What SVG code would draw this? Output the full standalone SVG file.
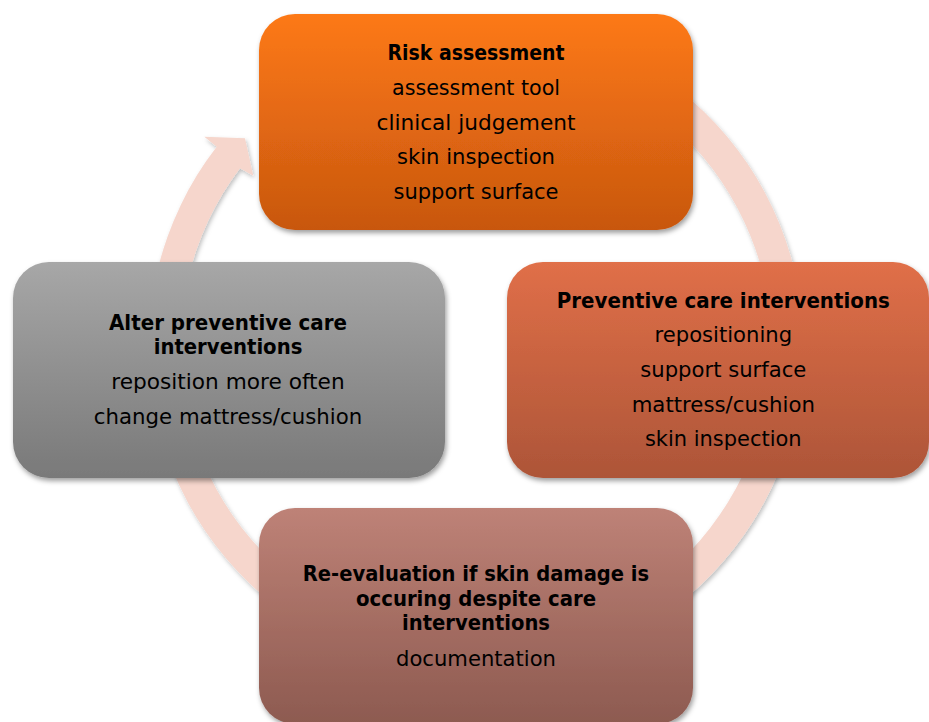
<svg xmlns="http://www.w3.org/2000/svg" width="929" height="722" viewBox="0 0 929 722">
  <defs>
    <linearGradient id="gOrange" x1="0" y1="0" x2="0" y2="1">
      <stop offset="0" stop-color="#FD7916"/>
      <stop offset="1" stop-color="#C8570F"/>
    </linearGradient>
    <linearGradient id="gRust" x1="0" y1="0" x2="0" y2="1">
      <stop offset="0" stop-color="#E06F48"/>
      <stop offset="1" stop-color="#AD5538"/>
    </linearGradient>
    <linearGradient id="gGrey" x1="0" y1="0" x2="0" y2="1">
      <stop offset="0" stop-color="#A7A7A7"/>
      <stop offset="1" stop-color="#797979"/>
    </linearGradient>
    <linearGradient id="gMauve" x1="0" y1="0" x2="0" y2="1">
      <stop offset="0" stop-color="#BE8277"/>
      <stop offset="1" stop-color="#8D5A50"/>
    </linearGradient>
    <filter id="shadow" x="-10%" y="-10%" width="120%" height="125%">
      <feDropShadow dx="1.5" dy="3" stdDeviation="2.5" flood-color="#000" flood-opacity="0.38"/>
    </filter>
    <filter id="ringShadow" x="-10%" y="-10%" width="120%" height="120%">
      <feDropShadow dx="1.5" dy="2.5" stdDeviation="2" flood-color="#000" flood-opacity="0.25"/>
    </filter>
  </defs>
  <style>
    .box { filter: url(#shadow); }
    text { font-family: "DejaVu Sans", "Liberation Sans", sans-serif; fill: #000; text-anchor: middle; }
    .h { font-size: 21.5px; font-weight: bold; }
    .t { font-size: 21.5px; }
  </style>

  <!-- circular cycle arrow behind the steps -->
  <g id="connectors">
    <path filter="url(#ringShadow)" fill="#F6D6CC"
          d="M 588.5 39.2 A 327.5 327.5 0 1 1 216.7 146.7 L 204.3 136.7 L 245 138.3 L 253.3 175.7 L 240 168.3 A 296 296 0 1 0 577.7 68.9 Z"/>
  </g>

  <g id="risk-assessment">
    <rect class="box" x="259" y="14" width="434" height="216" rx="36" fill="url(#gOrange)"/>
    <text class="h" x="476" y="60" textLength="177" lengthAdjust="spacingAndGlyphs">Risk assessment</text>
    <text class="t" x="476" y="95" textLength="168" lengthAdjust="spacingAndGlyphs">assessment tool</text>
    <text class="t" x="476" y="129.5" textLength="199" lengthAdjust="spacingAndGlyphs">clinical judgement</text>
    <text class="t" x="476" y="164" textLength="158" lengthAdjust="spacingAndGlyphs">skin inspection</text>
    <text class="t" x="476" y="198.5" textLength="165" lengthAdjust="spacingAndGlyphs">support surface</text>
  </g>

  <g id="preventive-care">
    <rect class="box" x="507" y="262" width="422" height="216" rx="36" fill="url(#gRust)"/>
    <text class="h" x="723.3" y="308.3" textLength="333" lengthAdjust="spacingAndGlyphs">Preventive care interventions</text>
    <text class="t" x="723.3" y="341.7" textLength="137.5" lengthAdjust="spacingAndGlyphs">repositioning</text>
    <text class="t" x="723.3" y="376.5" textLength="166" lengthAdjust="spacingAndGlyphs">support surface</text>
    <text class="t" x="723.3" y="411.5" textLength="183.3" lengthAdjust="spacingAndGlyphs">mattress/cushion</text>
    <text class="t" x="723.3" y="446" textLength="156.7" lengthAdjust="spacingAndGlyphs">skin inspection</text>
  </g>

  <g id="re-evaluation">
    <rect class="box" x="259" y="508" width="434" height="216" rx="36" fill="url(#gMauve)"/>
    <text class="h" x="476" y="581" textLength="346.3" lengthAdjust="spacingAndGlyphs">Re-evaluation if skin damage is</text>
    <text class="h" x="476" y="606" textLength="240" lengthAdjust="spacingAndGlyphs">occuring despite care</text>
    <text class="h" x="476" y="630" textLength="148" lengthAdjust="spacingAndGlyphs">interventions</text>
    <text class="t" x="476" y="666" textLength="160" lengthAdjust="spacingAndGlyphs">documentation</text>
  </g>

  <g id="alter-care">
    <rect class="box" x="13" y="262" width="432" height="216" rx="36" fill="url(#gGrey)"/>
    <text class="h" x="228" y="330" textLength="238" lengthAdjust="spacingAndGlyphs">Alter preventive care</text>
    <text class="h" x="228" y="354.3" textLength="148.7" lengthAdjust="spacingAndGlyphs">interventions</text>
    <text class="t" x="228" y="389.3" textLength="233.3" lengthAdjust="spacingAndGlyphs">reposition more often</text>
    <text class="t" x="228" y="424" textLength="268.3" lengthAdjust="spacingAndGlyphs">change mattress/cushion</text>
  </g>
</svg>
